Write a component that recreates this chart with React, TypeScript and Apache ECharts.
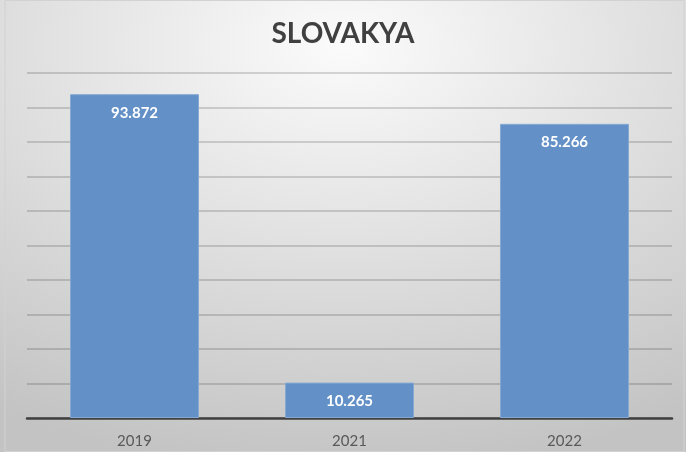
import React, { useEffect, useRef } from "react";
import * as echarts from "echarts";

const title = "SLOVAKYA";
const categories = ["2019", "2021", "2022"];
const values = [93872, 10265, 85266];
const yMax = 100000;
const yInterval = 10000;

const fmt = (v: number) => {
  const s = String(Math.round(v));
  return s.replace(/\B(?=(\d{3})+(?!\d))/g, ".");
};

export default function App() {
  const ref = useRef<HTMLDivElement>(null);
  useEffect(() => {
    document.body.style.margin = "0";
    const chart = echarts.init(ref.current!, null, { renderer: "svg" });
    const font = "Lato";
    chart.setOption({
      animation: false,
      backgroundColor: {
        type: "radial",
        x: 0.5,
        y: 0.1,
        r: 0.95,
        colorStops: [
          { offset: 0, color: "#fbfbfb" },
          { offset: 1, color: "#c3c3c3" },
        ],
      },
      graphic: [
        {
          type: "rect",
          shape: { x: 5, y: 0.5, width: 679, height: 451 },
          style: { fill: "none", stroke: "#d2d2d2", lineWidth: 1 },
          silent: true,
          z: -1,
        },
      ],
      title: {
        text: title,
        left: "center",
        top: 13,
        textStyle: {
          fontFamily: font,
          fontSize: 28,
          fontWeight: "bold",
          color: "#404040",
        },
      },
      grid: { left: 27, right: 14, top: 73, bottom: 34 },
      xAxis: {
        type: "category",
        data: categories,
        axisLine: { lineStyle: { color: "#404040", width: 2.5 } },
        axisTick: { show: false },
        axisLabel: {
          color: "#595959",
          fontFamily: font,
          fontSize: 15,
          margin: 14,
        },
      },
      yAxis: {
        type: "value",
        min: 0,
        max: yMax,
        interval: yInterval,
        axisLabel: { show: false },
        axisLine: { show: false },
        axisTick: { show: false },
        splitLine: { lineStyle: { color: "rgba(0,0,0,0.2)", width: 1.5 } },
      },
      series: [
        {
          type: "bar",
          data: values,
          barWidth: "60%",
          itemStyle: {
            color: "#6391c7",
            borderColor: "#86a9d4",
            borderWidth: 1,
          },
          label: {
            show: true,
            position: "insideTop",
            distance: 10,
            color: "#ffffff",
            fontFamily: font,
            fontWeight: "bold",
            fontSize: 15,
            formatter: (p: any) => fmt(p.value),
          },
        },
      ],
    });
    return () => chart.dispose();
  }, []);
  return (
    <div
      ref={ref}
      style={{ position: "fixed", left: 0, top: 0, width: 686, height: 452 }}
    />
  );
}
